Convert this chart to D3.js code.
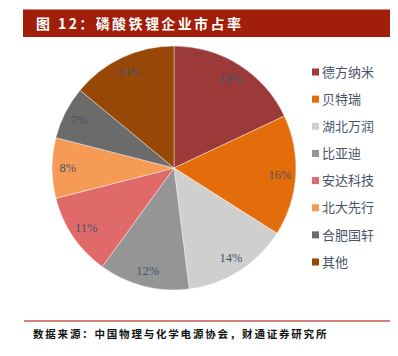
<!DOCTYPE html>
<html><head><meta charset="utf-8">
<script src="https://cdn.jsdelivr.net/npm/d3@7"></script>
<style>body{margin:0;background:#fff;}svg{display:block;}</style>
</head><body>
<svg id="c" width="398" height="356"></svg>
<script>
const categories = ["德方纳米","贝特瑞","湖北万润","比亚迪","安达科技","北大先行","合肥国轩","其他"];
const shares = [18,16,14,12,11,8,7,14];
const colors = ["#9c3a39","#e46c0a","#cfcfcf","#959595","#e06a6a","#f69b56","#6b6b6b","#974706"];
const titleText = "图 12：磷酸铁锂企业市占率";
const sourceText = "数据来源：中国物理与化学电源协会，财通证券研究所";

const svg = d3.select("#c");
// title bar
svg.append("rect").attr("x",23).attr("y",9).attr("width",367).attr("height",28).attr("fill","#a11e0a");
svg.append("line").attr("x1",23).attr("x2",390).attr("y1",9.5).attr("y2",9.5).attr("stroke","#d98a7e").attr("stroke-width",1);
svg.append("text").attr("x",36).attr("y",28.5).attr("fill","#fff")
  .attr("font-family","'Noto Sans CJK SC',sans-serif").attr("font-weight","bold")
  .attr("font-size",14).attr("letter-spacing","2.4px").text(titleText);

// pie
const cx=174, cy=168, R=122;
const pie = d3.pie().sort(null).value(d=>d.v);
const data = pie(categories.map((c,i)=>({c,v:shares[i]})));
const arc = d3.arc().innerRadius(0).outerRadius(R);
const labelArc = d3.arc().innerRadius(R*0.87).outerRadius(R*0.87);
const g = svg.append("g").attr("transform",`translate(${cx},${cy})`);
g.selectAll("path").data(data).join("path").attr("d",arc)
  .attr("fill",(d,i)=>colors[i]).attr("stroke","#ffffff").attr("stroke-width",0.6).attr("stroke-opacity",0.7);
g.selectAll("text").data(data).join("text")
  .attr("transform",d=>`translate(${labelArc.centroid(d)})`)
  .attr("text-anchor","middle").attr("dy","0.35em")
  .attr("font-family","'Liberation Serif',serif").attr("font-size",12.5)
  .attr("fill","#44546a").text(d=>d.data.v+"%");

// legend
const lg = svg.append("g");
const ly = d3.scalePoint().domain(categories).range([72,262]);
categories.forEach((c,i)=>{
  lg.append("rect").attr("x",312).attr("y",ly(c)-3.5).attr("width",7).attr("height",7).attr("fill",colors[i]);
  lg.append("text").attr("x",322).attr("y",ly(c)).attr("dy","0.36em")
    .attr("font-family","'Noto Sans CJK SC',sans-serif").attr("font-size",13)
    .attr("fill","#4a5468").text(c);
});

// footer
svg.append("line").attr("x1",24).attr("x2",390).attr("y1",321).attr("y2",321).attr("stroke","#c9564e").attr("stroke-width",1.6);
svg.append("text").attr("x",33).attr("y",338).attr("fill","#111")
  .attr("font-family","'Noto Sans CJK SC',sans-serif").attr("font-weight","bold")
  .attr("font-size",10.5).attr("letter-spacing","1.8px").text(sourceText);
</script>
</body></html>
